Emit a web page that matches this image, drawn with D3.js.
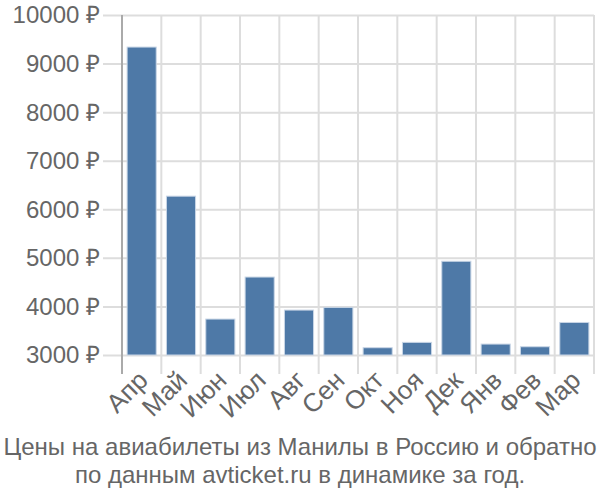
<!DOCTYPE html>
<html>
<head>
<meta charset="utf-8">
<script src="https://cdn.jsdelivr.net/npm/d3@7"></script>
<style>
  body { margin: 0; background: #fff; }
  svg { display: block; font-family: "Liberation Sans", Arial, sans-serif; }
</style>
</head>
<body>
<div id="chart"></div>
<script>
const months = ["Апр", "Май", "Июн", "Июл", "Авг", "Сен", "Окт", "Ноя", "Дек", "Янв", "Фев", "Мар"];
const prices = [9340, 6270, 3740, 4605, 3925, 3980, 3150, 3260, 4930, 3225, 3170, 3670];
const yTicks = [3000, 4000, 5000, 6000, 7000, 8000, 9000, 10000];
const titleLines = ["Цены на авиабилеты из Манилы в Россию и обратно", "по данным avticket.ru в динамике за год."];

const W = 600, H = 500;
const plotLeft = 122, plotRight = 594, plotTop = 15, plotBottom = 355;

const svg = d3.select("#chart").append("svg")
    .attr("width", W)
    .attr("height", H);

const x = d3.scaleBand()
    .domain(months)
    .range([plotLeft, plotRight])
    .paddingInner(0.26)
    .paddingOuter(0.13);

const y = d3.scaleLinear()
    .domain([3000, 10000])
    .range([plotBottom, plotTop]);

// horizontal grid + y labels
const yAxis = svg.append("g")
    .attr("transform", "translate(" + plotRight + ",0)")
    .call(d3.axisLeft(y).tickValues(yTicks).tickSize(plotRight - 103).tickPadding(3)
        .tickFormat(d => d + " ₽"));
yAxis.select(".domain").remove();
yAxis.selectAll("line").attr("stroke", "#ddd").attr("stroke-width", 2);
yAxis.selectAll("text").attr("fill", "#666").style("font-size", "24px").attr("dy", "0.33em");

// vertical grid at band edges
const edges = months.map(m => x(m) - x.step() * x.paddingInner() / 2);
edges.push(plotRight);
svg.append("g").selectAll("line")
    .data(edges.slice(1))
    .enter()
    .append("line")
    .attr("x1", d => d).attr("x2", d => d)
    .attr("y1", plotTop).attr("y2", plotBottom + 19)
    .attr("stroke", "#ddd")
    .attr("stroke-width", 2);

// left axis line
svg.append("line")
    .attr("x1", plotLeft).attr("x2", plotLeft)
    .attr("y1", plotTop).attr("y2", plotBottom + 19)
    .attr("stroke", "#aaa")
    .attr("stroke-width", 2);

// bars
svg.append("g").selectAll("rect")
    .data(months)
    .enter()
    .append("rect")
    .attr("x", d => x(d))
    .attr("y", (d, i) => y(prices[i]))
    .attr("width", x.bandwidth())
    .attr("height", (d, i) => plotBottom - y(prices[i]))
    .attr("fill", "#4e79a7")
    .attr("stroke", "#c9d6e6")
    .attr("stroke-width", 1);

// x labels
svg.append("g").selectAll("text")
    .data(months)
    .enter()
    .append("text")
    .attr("transform", d => "translate(" + (x(d) + x.bandwidth() / 2 - 5) + "," + (plotBottom + 14) + ") rotate(-45)")
    .attr("text-anchor", "end")
    .attr("dy", "0.7em")
    .attr("fill", "#666")
    .style("font-size", "26px")
    .text(d => d);

// title
svg.append("g").selectAll("text")
    .data(titleLines)
    .enter()
    .append("text")
    .attr("x", W / 2)
    .attr("y", (d, i) => 455 + i * 28)
    .attr("text-anchor", "middle")
    .attr("fill", "#666")
    .style("font-size", "24px")
    .text(d => d);
</script>
</body>
</html>
